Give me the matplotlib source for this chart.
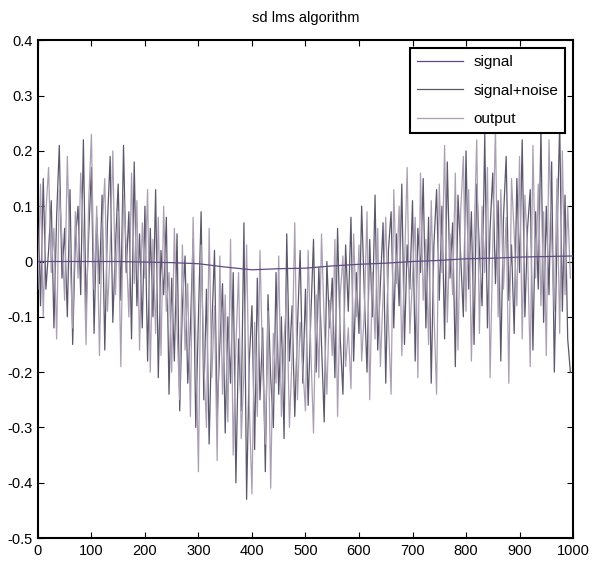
import numpy as np
import matplotlib.pyplot as plt

plt.rcParams['font.family'] = ['Liberation Sans', 'DejaVu Sans']

# signal, sampled every 50 samples
sig_x = [0, 50, 100, 150, 200, 250, 300, 350, 400, 450, 500,
         550, 600, 650, 700, 750, 800, 850, 900, 950, 1000]
signal = [0.0, 0.0, 0.0, 0.0, -0.001, -0.002, -0.004, -0.010, -0.015, -0.013, -0.012,
          -0.008, -0.005, -0.003, 0.0, 0.002, 0.005, 0.006, 0.008, 0.009, 0.010]

# noisy traces, read every 5 samples
noisy_x = list(range(0, 1000, 5))
signal_noise = [
    0.12, -0.08, 0.15, -0.05, 0.02, 0.11, -0.12, 0.08, 0.21, -0.03,
    0.06, -0.10, 0.13, -0.15, 0.04, 0.10, -0.06, 0.22, -0.09, 0.05,
    0.17, -0.13, 0.08, -0.04, 0.12, -0.16, 0.07, 0.19, -0.11, 0.03,
    0.14, -0.07, 0.21, -0.02, 0.09, -0.14, 0.18, -0.08, 0.05, -0.12,
    0.10, -0.18, 0.06, -0.10, 0.13, -0.21, 0.02, -0.06, 0.08, -0.24,
    -0.03, -0.18, 0.05, -0.27, -0.08, 0.01, -0.22, -0.12, 0.04, -0.30,
    -0.10, 0.09, -0.25, -0.05, -0.33, -0.12, 0.02, -0.28, -0.15, -0.04,
    -0.31, -0.10, -0.22, -0.02, -0.40, -0.14, -0.27, 0.07, -0.43, -0.18,
    -0.08, -0.34, -0.03, -0.25, -0.12, -0.38, -0.06, -0.21, -0.30, -0.02,
    -0.24, -0.10, -0.32, 0.05, -0.18, -0.08, -0.28, -0.12, 0.02, -0.22,
    -0.05, -0.26, -0.10, 0.04, -0.20, -0.01, -0.15, -0.29, 0.00, -0.12,
    -0.03, -0.21, 0.06, -0.14, -0.24, 0.03, -0.09, 0.08, -0.18, -0.02,
    -0.13, 0.10, -0.06, -0.20, 0.04, -0.10, 0.12, -0.16, -0.04, 0.07,
    -0.22, 0.02, 0.09, -0.12, 0.05, -0.08, 0.14, -0.15, 0.03, -0.05,
    0.11, -0.18, 0.06, -0.02, 0.15, -0.12, 0.08, -0.22, 0.03, 0.13,
    -0.07, 0.10, -0.14, 0.18, -0.03, 0.07, -0.19, 0.12, 0.01, -0.10,
    0.20, -0.05, 0.09, -0.15, 0.14, 0.02, -0.08, 0.23, -0.12, 0.06,
    0.16, -0.04, 0.11, -0.18, 0.08, 0.19, -0.07, 0.03, -0.13, 0.15,
    -0.02, 0.22, -0.10, 0.06, 0.13, -0.16, 0.09, -0.05, 0.24, -0.11,
    0.10, -0.06, 0.18, -0.20, 0.04, 0.25, -0.09, 0.12, -0.14, -0.20,
]
output = [
    -0.05, 0.14, -0.10, 0.09, 0.17, -0.02, 0.06, -0.14, 0.13, 0.04,
    -0.07, 0.19, 0.01, -0.12, 0.09, -0.03, 0.16, 0.05, -0.15, 0.11,
    0.23, -0.05, 0.10, -0.17, 0.06, 0.15, -0.09, 0.02, 0.20, -0.06,
    0.09, -0.19, 0.12, 0.03, -0.10, 0.16, -0.04, 0.11, -0.16, 0.07,
    -0.03, 0.13, -0.20, 0.04, -0.13, 0.08, -0.17, 0.10, -0.09, -0.02,
    -0.20, 0.06, -0.12, -0.25, 0.03, -0.16, -0.04, -0.28, 0.08, -0.14,
    -0.38, 0.03, -0.18, -0.30, 0.06, -0.21, -0.08, -0.36, 0.01, -0.24,
    -0.06, -0.29, 0.04, -0.35, -0.15, -0.02, -0.32, -0.20, 0.03, -0.26,
    -0.42, -0.11, -0.28, 0.02, -0.19, -0.33, -0.09, -0.41, -0.13, -0.22,
    0.01, -0.28, -0.14, -0.06, -0.30, -0.17, 0.07, -0.25, -0.11, -0.19,
    -0.27, 0.02, -0.16, -0.31, -0.06, -0.21, 0.05, -0.11, -0.24, -0.07,
    -0.17, 0.04, -0.28, -0.06, 0.01, -0.19, -0.12, -0.23, 0.05, -0.10,
    0.03, -0.18, -0.09, 0.09, -0.25, -0.02, -0.14, 0.06, -0.19, -0.06,
    0.08, -0.11, -0.24, 0.13, -0.04, 0.10, -0.17, -0.01, 0.17, -0.13,
    -0.03, 0.08, -0.21, 0.16, -0.07, 0.04, -0.15, 0.11, -0.09, -0.24,
    0.14, -0.02, 0.21, -0.11, 0.05, -0.06, 0.16, -0.16, 0.09, 0.19,
    -0.09, 0.13, -0.18, 0.04, 0.22, -0.13, 0.10, -0.02, 0.17, -0.21,
    0.03, 0.24, -0.10, 0.13, -0.05, 0.08, -0.22, 0.15, 0.05, -0.08,
    0.19, -0.14, 0.12, 0.02, -0.19, 0.21, -0.03, 0.14, -0.08, 0.09,
    -0.17, 0.22, 0.04, -0.09, 0.15, -0.13, 0.20, -0.06, 0.10, -0.03,
]

yticks = [-0.5, -0.4, -0.3, -0.2, -0.1, 0, 0.1, 0.2, 0.3, 0.4]
ytick_labels = ['-0.5', '-0.4', '-0.3', '-0.2', '-0.1', '0', '0.1', '0.2', '0.3', '0.4']
xticks = [0, 100, 200, 300, 400, 500, 600, 700, 800, 900, 1000]

fig = plt.figure(figsize=(5.92, 5.67), dpi=100)
ax = fig.add_axes([0.064, 0.051, 0.904, 0.878])

ax.plot(sig_x, signal, color='#5f4a86', lw=0.9, label='signal', zorder=4)
ax.plot(noisy_x, signal_noise, color='#5c586c', lw=0.9, label='signal+noise', zorder=2)
ax.plot(noisy_x, output, color='#ab9fb4', lw=0.9, label='output', zorder=3)

ax.set_xlim(0, 1000)
ax.set_ylim(-0.5, 0.4)
ax.set_xticks(xticks)
ax.set_yticks(yticks)
ax.set_yticklabels(ytick_labels)
ax.tick_params(direction='in', top=True, right=True, labelsize=10.5, length=4, pad=4)
for sp in ax.spines.values():
    sp.set_linewidth(1.5)
ax.set_title('sd lms algorithm', fontsize=10.5, pad=13)

leg = ax.legend(loc='upper right', bbox_to_anchor=(0.985, 0.984), borderaxespad=0,
                fontsize=11, fancybox=False, framealpha=1, edgecolor='black',
                handlelength=3.0, handletextpad=0.7, borderpad=0.45, labelspacing=0.95)
leg.get_frame().set_linewidth(1.5)

fig.savefig('out.png', dpi=100)
